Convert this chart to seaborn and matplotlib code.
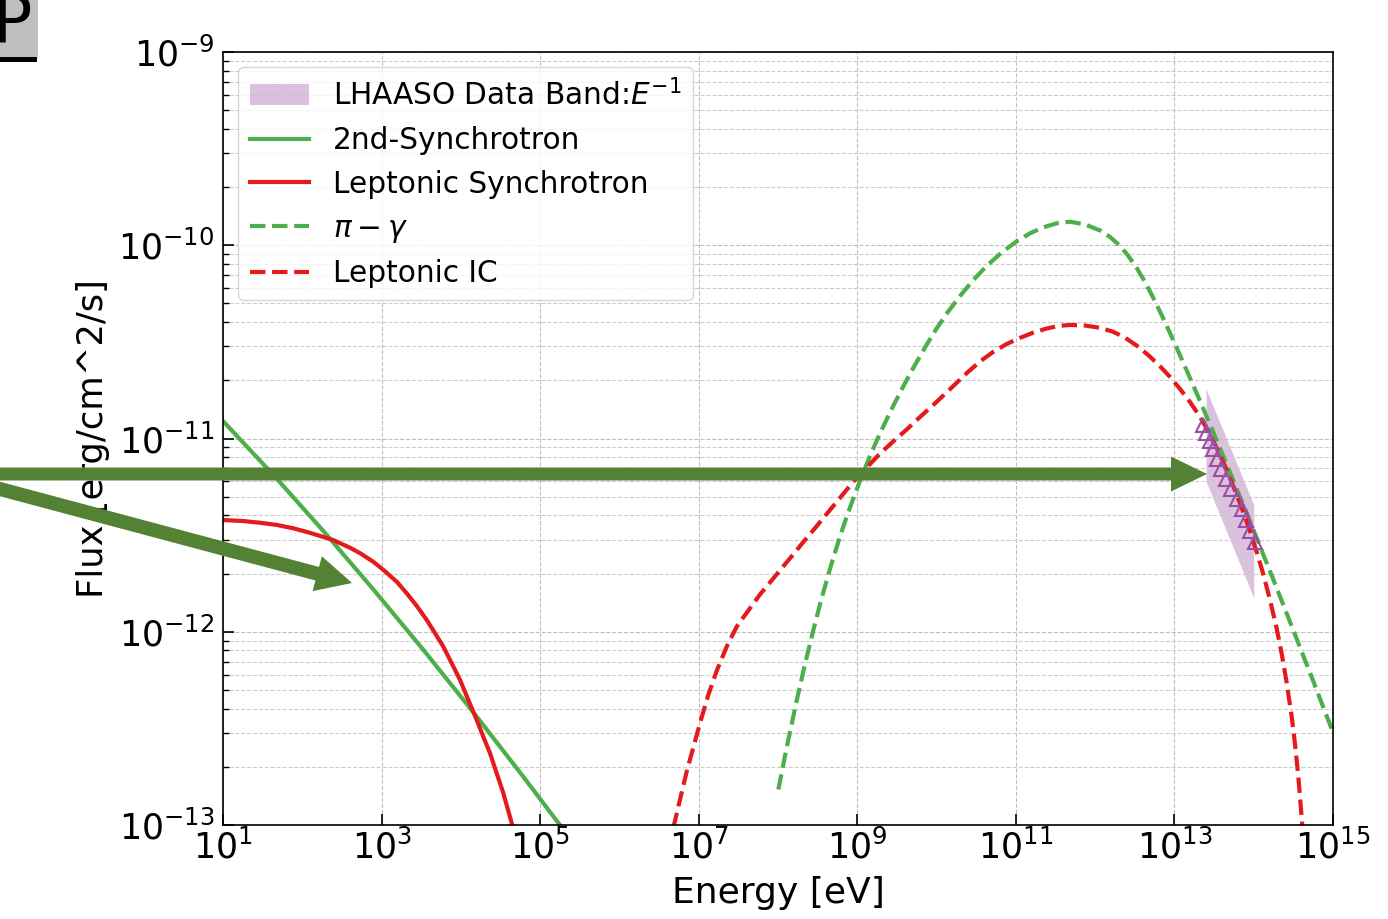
import matplotlib
matplotlib.use("Agg")
import matplotlib.pyplot as plt
from matplotlib.patches import FancyArrow, Rectangle
from matplotlib.ticker import FixedLocator, LogLocator, NullLocator
import numpy as np
import pandas as pd
import seaborn as sns

plt.rcParams["font.family"] = ["DejaVu Sans"]
plt.rcParams["mathtext.fontset"] = "dejavusans"

# values (E in eV, flux in erg/cm^2/s)
sync2_E = [1.0e1, 4.40e1, 1.878e2, 8.02e2, 3.428e3, 1.464e4, 6.26e4, 1.679e5, 2.38e5]
sync2_F = [1.23e-11, 6.42e-12, 3.29e-12, 1.64e-12, 7.98e-13, 3.79e-13, 1.757e-13, 1.029e-13, 8.53e-14]

lsync_E = [1.0e1, 1.80e1, 2.93e1, 4.75e1, 7.69e1, 1.25e2, 2.46e2, 4.00e2, 5.35e2, 7.87e2,
           1.052e3, 1.552e3, 2.075e3, 2.775e3, 3.709e3, 4.721e3, 6.003e3, 7.656e3, 9.75e3,
           1.241e4, 1.585e4, 1.919e4, 2.33e4, 2.83e4, 3.43e4, 4.38e4, 4.82e4]
lsync_F = [3.785e-12, 3.74e-12, 3.665e-12, 3.57e-12, 3.43e-12, 3.25e-12, 2.98e-12, 2.72e-12, 2.55e-12, 2.30e-12,
           2.09e-12, 1.815e-12, 1.58e-12, 1.36e-12, 1.15e-12, 9.82e-13, 8.37e-13, 6.87e-13, 5.63e-13,
           4.43e-13, 3.49e-13, 2.86e-13, 2.35e-13, 1.85e-13, 1.46e-13, 1.02e-13, 8.6e-14]

pi_E = [1.008e8, 1.286e8, 1.72e8, 2.19e8, 2.79e8, 3.55e8, 4.75e8, 6.05e8, 7.35e8, 9.35e8,
        1.136e9, 1.445e9, 1.755e9, 2.23e9, 2.84e9, 3.80e9, 5.08e9, 7.14e9, 1.0e10, 1.404e10,
        1.972e10, 2.90e10, 4.28e10, 6.62e10, 1.023e11, 1.506e11, 2.22e11, 3.27e11, 4.81e11, 7.44e11,
        1.15e12, 1.538e12, 2.06e12, 2.62e12, 3.34e12, 4.25e12, 5.41e12, 6.90e12, 8.78e12, 1.118e13,
        1.426e13, 1.815e13, 2.31e13, 3.75e13, 6.09e13, 9.86e13, 1.764e14, 3.15e14, 5.63e14, 1.0e15]
pi_F = [1.527e-13, 2.518e-13, 4.41e-13, 6.81e-13, 1.021e-12, 1.495e-12, 2.268e-12, 3.113e-12, 3.944e-12, 5.172e-12,
        6.367e-12, 8.11e-12, 9.74e-12, 1.204e-11, 1.475e-11, 1.861e-11, 2.319e-11, 2.96e-11, 3.713e-11, 4.546e-11,
        5.46e-11, 6.61e-11, 7.816e-11, 9.18e-11, 1.048e-10, 1.153e-10, 1.238e-10, 1.299e-10, 1.324e-10, 1.282e-10,
        1.193e-10, 1.104e-10, 9.92e-11, 8.81e-11, 7.63e-11, 6.46e-11, 5.34e-11, 4.35e-11, 3.515e-11, 2.823e-11,
        2.25e-11, 1.795e-11, 1.426e-11, 8.90e-12, 5.50e-12, 3.38e-12, 1.864e-12, 1.02e-12, 5.55e-13, 3.01e-13]

ic_E = [4.78e6, 5.80e6, 7.05e6, 8.54e6, 1.037e7, 1.32e7, 1.685e7, 2.25e7, 3.01e7, 4.22e7,
        5.92e7, 7.92e7, 1.059e8, 1.488e8, 2.08e8, 2.93e8, 4.11e8, 6.05e8, 8.90e8, 1.313e9,
        1.932e9, 2.84e9, 4.20e9, 6.17e9, 9.08e9, 1.475e10, 2.40e10, 3.52e10, 5.19e10, 7.65e10,
        1.127e11, 1.658e11, 2.45e11, 3.42e11, 4.81e11, 7.44e11, 1.15e12, 1.692e12, 2.38e12, 3.34e12,
        4.68e12, 6.57e12, 8.78e12, 1.174e13, 1.57e13, 2.10e13, 2.67e13, 3.41e13, 4.34e13, 5.52e13,
        7.05e13, 8.97e13, 1.09e14, 1.32e14, 1.603e14, 1.947e14, 2.25e14, 2.60e14, 3.01e14, 3.31e14,
        3.65e14, 4.02e14, 4.14e14]
ic_F = [9.67e-14, 1.353e-13, 1.894e-13, 2.52e-13, 3.37e-13, 4.71e-13, 6.28e-13, 8.37e-13, 1.063e-12, 1.288e-12,
        1.56e-12, 1.80e-12, 2.08e-12, 2.46e-12, 2.91e-12, 3.44e-12, 4.07e-12, 4.93e-12, 5.98e-12, 7.07e-12,
        8.36e-12, 9.66e-12, 1.114e-11, 1.292e-11, 1.491e-11, 1.80e-11, 2.18e-11, 2.503e-11, 2.81e-11, 3.083e-11,
        3.318e-11, 3.532e-11, 3.71e-11, 3.82e-11, 3.87e-11, 3.843e-11, 3.74e-11, 3.565e-11, 3.326e-11, 3.025e-11,
        2.70e-11, 2.366e-11, 2.083e-11, 1.806e-11, 1.545e-11, 1.292e-11, 1.087e-11, 8.94e-12, 7.19e-12, 5.67e-12,
        4.375e-12, 3.317e-12, 2.588e-12, 1.983e-12, 1.463e-12, 1.038e-12, 7.71e-13, 5.455e-13, 3.64e-13, 2.634e-13,
        1.778e-13, 1.093e-13, 9.36e-14]

band_E = [2.5e13, 1.0e14]
band_lo = [6.0e-12, 1.5e-12]
band_hi = [1.81e-11, 4.53e-12]

lhaaso_E = [2.29e13, 2.50e13, 2.77e13, 3.06e13, 3.44e13, 3.86e13, 4.53e13,
            5.24e13, 6.06e13, 7.11e13, 7.98e13, 8.97e13, 1.04e14]
lhaaso_F = [1.175e-11, 1.068e-11, 9.70e-12, 8.83e-12, 7.84e-12, 6.95e-12, 6.17e-12,
            5.48e-12, 4.86e-12, 4.32e-12, 3.78e-12, 3.32e-12, 2.91e-12]

x_ticks = [1e1, 1e3, 1e5, 1e7, 1e9, 1e11, 1e13, 1e15]

pal = sns.color_palette("Set1")
red, green, purple = pal[0], pal[2], pal[3]
arrow_green = "#548235"

fig = plt.figure(figsize=(13.88, 9.19), dpi=100)
ax = fig.add_axes([0.1607, 0.1023, 0.7997, 0.8411])

band_label = "LHAASO Data Band:$E^{-1}$"
ax.fill_between(band_E, band_lo, band_hi, color=purple, alpha=0.35, lw=0, label=band_label)

curves = [
    (sync2_E, sync2_F, green, "-", "2nd-Synchrotron"),
    (lsync_E, lsync_F, red, "-", "Leptonic Synchrotron"),
    (pi_E, pi_F, green, "--", r"$\pi-\gamma$"),
    (ic_E, ic_F, red, "--", "Leptonic IC"),
]
for E, F, col, ls, lab in curves:
    df = pd.DataFrame({"E": E, "F": F})
    sns.lineplot(data=df, x="E", y="F", color=col, linestyle=ls, linewidth=3,
                 label=lab, estimator=None, ax=ax)

ax.plot(lhaaso_E, lhaaso_F, linestyle="none", marker="^", markersize=10,
        markerfacecolor="none", markeredgecolor=purple, markeredgewidth=1.5)

ax.set_xscale("log")
ax.set_yscale("log")
ax.set_xlim(1e1, 1e15)
ax.set_ylim(1e-13, 1e-9)

ax.xaxis.set_major_locator(FixedLocator(x_ticks))
ax.xaxis.set_minor_locator(NullLocator())
ax.yaxis.set_major_locator(LogLocator(base=10))
ax.yaxis.set_minor_locator(LogLocator(base=10, subs=np.arange(2, 10)))
ax.tick_params(which="both", direction="in", labelsize=25)
ax.tick_params(which="major", length=8, width=1.2)
ax.tick_params(which="minor", length=4, width=1)
ax.tick_params(axis="x", pad=3)
ax.tick_params(axis="y", pad=6)
for sp in ax.spines.values():
    sp.set_linewidth(1.2)

ax.grid(True, which="major", ls="--", color="0.75", lw=0.8)
ax.grid(True, which="minor", axis="y", ls="--", color="0.8", lw=0.8)

ax.set_xlabel("Energy [eV]", fontsize=26)
ax.set_ylabel("Flux [erg/cm^2/s]", fontsize=25.5)
ax.xaxis.set_label_coords(0.5, -0.066)
ax.yaxis.set_label_coords(-0.102, 0.5)

handles, labels = ax.get_legend_handles_labels()
order = [labels.index(l) for l in [band_label, "2nd-Synchrotron",
                                    "Leptonic Synchrotron", r"$\pi-\gamma$", "Leptonic IC"]]
ax.legend([handles[i] for i in order], [labels[i] for i in order],
          loc="upper left", fontsize=21.3, framealpha=0.8)

# overlay arrows (figure inches)
tr = fig.dpi_scale_trans
fig.add_artist(FancyArrow(-0.3, 4.45, 12.37, 0.0, width=0.13, head_width=0.35, head_length=0.36,
                          length_includes_head=True, color=arrow_green, lw=0, transform=tr))
fig.add_artist(FancyArrow(-0.3, 4.38, 3.82, -1.02, width=0.14, head_width=0.36, head_length=0.36,
                          length_includes_head=True, color=arrow_green, lw=0, transform=tr))

# cropped panel label box at top left
fig.add_artist(Rectangle((0.0, 8.62), 0.38, 0.8, facecolor="#bfbfbf", edgecolor="none", transform=tr))
fig.add_artist(Rectangle((0.0, 8.57), 0.37, 0.05, facecolor="black", edgecolor="none", transform=tr))
fig.text(-0.07, 8.77, "P", fontsize=47, ha="left", va="baseline", transform=tr)

fig.savefig("out.png", dpi=100)
